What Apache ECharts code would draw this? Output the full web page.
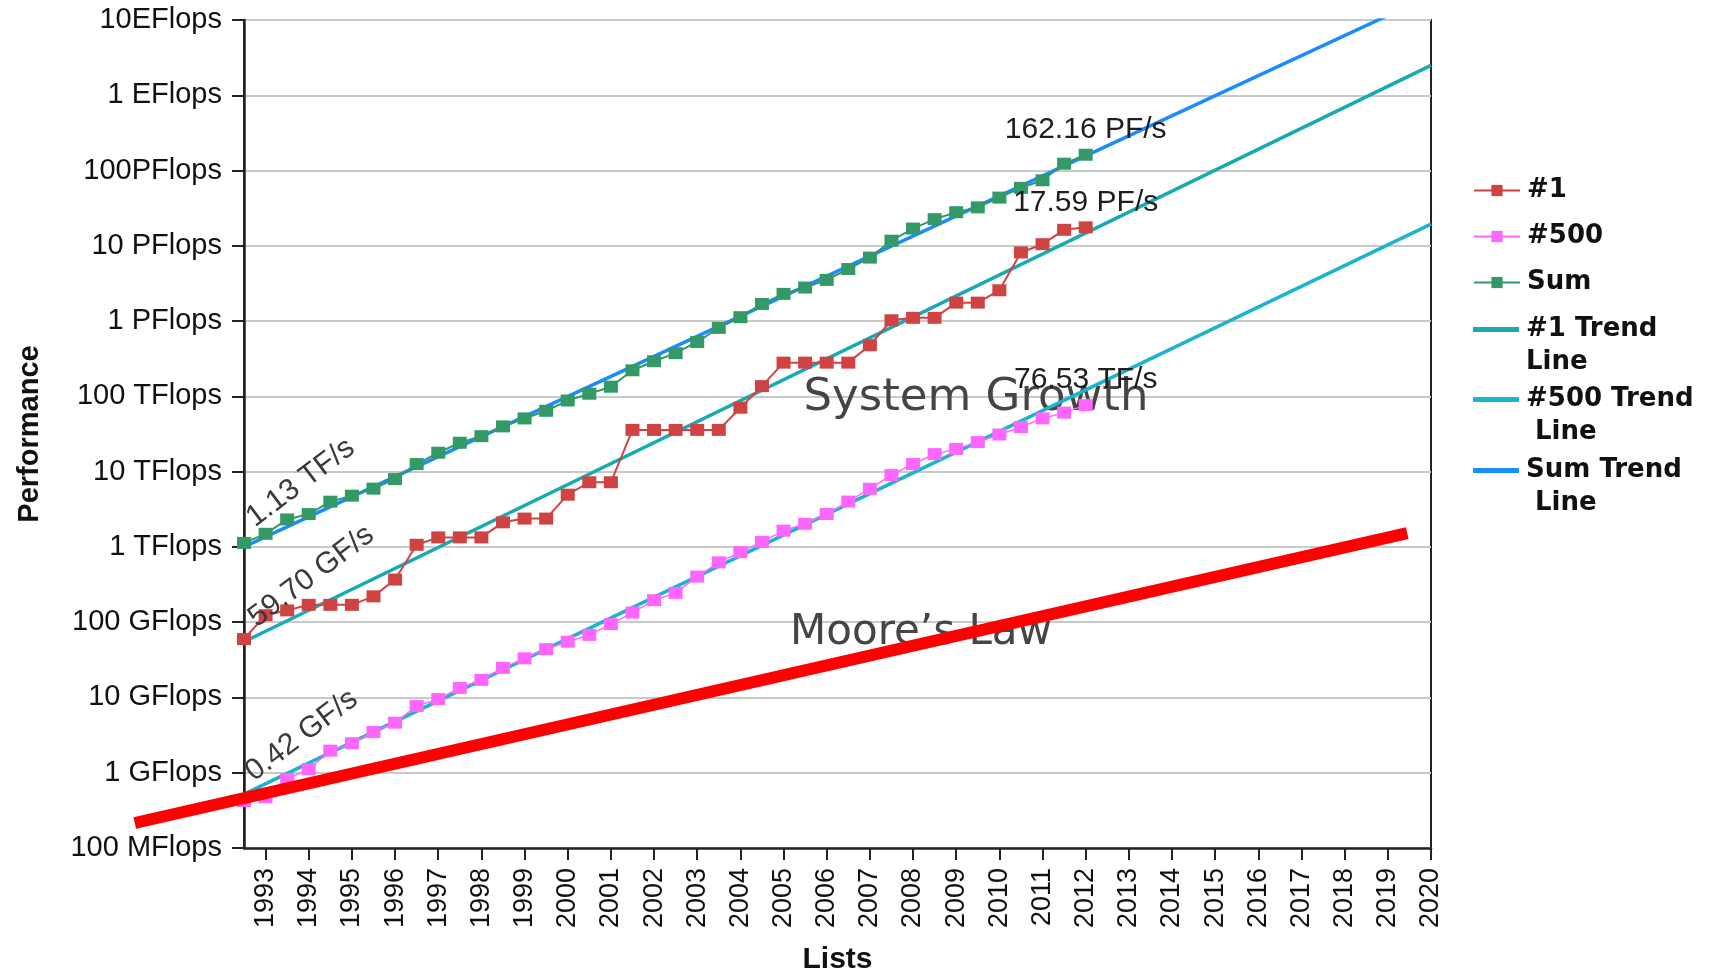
<!DOCTYPE html>
<html>
<head>
<meta charset="utf-8">
<script src="https://cdn.jsdelivr.net/npm/echarts@6/dist/echarts.min.js"></script>
<style>
  html, body { margin: 0; padding: 0; background: #ffffff; }
  #chart { width: 1714px; height: 973px; }
</style>
</head>
<body>
<div id="chart"></div>
<script>
// Two TOP500 lists per year: June and November
const years = [1993, 1994, 1995, 1996, 1997, 1998, 1999, 2000, 2001, 2002, 2003, 2004, 2005, 2006,
               2007, 2008, 2009, 2010, 2011, 2012, 2013, 2014, 2015, 2016, 2017, 2018, 2019, 2020];
const lists = [];
years.forEach(function (y) { lists.push(y + '.06'); lists.push(y + '.11'); });

// Performance in GFlop/s, June 1993 .. November 2012
const top1 = [59.7, 124, 143.4, 170, 170, 170, 220.4, 368.2, 1068, 1338, 1338, 1338, 2121, 2379, 2379,
              4938, 7226, 7226, 35860, 35860, 35860, 35860, 35860, 70720, 136800, 280600, 280600, 280600,
              280600, 478200, 1026000, 1105000, 1105000, 1759000, 1759000, 2566000, 8162000, 10510000,
              16320000, 17590000];
const top500 = [0.42, 0.472, 0.822, 1.114, 1.964, 2.468, 3.483, 4.62, 7.68, 9.51, 13.39, 17.12, 24.73,
                33.09, 43.82, 55.09, 67.78, 94.3, 134.3, 195.8, 245.1, 403.4, 624, 850.6, 1166, 1646,
                2026, 2737, 4005, 5929, 8996, 12640, 17090, 20050, 24670, 31120, 39090, 50940, 60820,
                76530];
const sumPerf = [1130, 1493, 2317, 2732, 3992, 4793, 5946, 7962, 12600, 17830, 24200, 29600, 39900,
                 50900, 64300, 88100, 108500, 134400, 222000, 293000, 375000, 528000, 813000, 1127000,
                 1690000, 2300000, 2790000, 3530000, 4920000, 6970000, 11700000, 16950000, 22600000,
                 27950000, 32400000, 43700000, 58900000, 74200000, 123400000, 162160000];

// Exponential trend lines: values (GFlop/s) at the first and last list position
const trendAt = [0, 55];
const trend1 = [55, 2.5e9];
const trend500 = [0.52, 1.94e7];
const trendSum = [1000, 2.12e10];

// Moore's law reference line (list position, GFlop/s); it starts left of the first list
const mooreAt = [-5.06, 53.9];
const moore = [0.215, 1524];

// Y axis tick labels, one per decade from 100 MFlops up
const yTickLabels = ['100 MFlops', '1 GFlops', '10 GFlops', '100 GFlops', '1 TFlops', '10 TFlops',
                     '100 TFlops', '1 PFlops', '10 PFlops', '100PFlops', '1 EFlops', '10EFlops'];

// Two-line legend entries; the leading blank line keeps the icon level with the first line
const legendText = {
  '#1 Trend Line': '\u00a0\n#1 Trend\nLine',
  '#500 Trend Line': '\u00a0\n#500 Trend\n Line',
  'Sum Trend Line': '\u00a0\nSum Trend\n Line'
};

// Plot area
const W = 1714, H = 973;
const plot = { left: 244, right: 283, top: 20, bottom: 125 };
const unit = (W - plot.left - plot.right) / (trendAt[1] - trendAt[0]);

function fmtRate(v) {
  const units = [['PF/s', 1e6], ['TF/s', 1e3], ['GF/s', 1]];
  for (let i = 0; i < units.length; i++) {
    if (v >= units[i][1]) return (v / units[i][1]).toFixed(2) + ' ' + units[i][0];
  }
  return v.toFixed(2) + ' GF/s';
}

const FONT = '"Liberation Sans", Arial, sans-serif';
const LEGEND_FONT = '"DejaVu Sans", sans-serif';

// First point gets a slanted start label, last point a label on top
function withLabels(arr, startOffset) {
  const last = arr.length - 1;
  return arr.map(function (v, i) {
    if (i === 0) {
      return { value: v, label: {
        show: true, formatter: fmtRate(v), position: startOffset, rotate: 37,
        align: 'left', verticalAlign: 'middle', color: '#3a3a3a', fontFamily: FONT, fontSize: 30 } };
    }
    if (i === last) {
      return { value: v, label: {
        show: true, formatter: fmtRate(v), position: 'top', distance: 4,
        color: '#1e1e1e', fontFamily: FONT, fontSize: 30 } };
    }
    return v;
  });
}

function trendData(vals) {
  return [[trendAt[0], vals[0]], [trendAt[1], vals[1]]];
}

const oddOnly = function (idx) { return idx % 2 === 1; };

function trendLegend(name, top) {
  return {
    data: [name],
    orient: 'vertical', left: 1468, top: top,
    itemWidth: 46, itemHeight: 5, icon: 'rect',
    formatter: function (n) { return legendText[n]; },
    textStyle: { fontFamily: LEGEND_FONT, fontWeight: 'bold', fontSize: 26, lineHeight: 33, color: '#111111', padding: [0, 0, 0, 2] }
  };
}

const chart = echarts.init(document.getElementById('chart'), null, { renderer: 'canvas' });

chart.setOption({
  animation: false,
  backgroundColor: '#ffffff',
  grid: [{
    left: plot.left, right: plot.right, top: plot.top, bottom: plot.bottom,
    show: true, borderColor: '#222222', borderWidth: 2,
    outerBoundsMode: 'none'
  }, {
    // same vertical span, widened to the left so the Moore line can start before 1993
    left: plot.left + mooreAt[0] * unit, right: plot.right, top: plot.top, bottom: plot.bottom,
    show: false, outerBoundsMode: 'none'
  }],
  xAxis: [{
    type: 'category',
    gridIndex: 0,
    data: lists,
    boundaryGap: false,
    name: 'Lists',
    nameLocation: 'middle',
    nameGap: 97,
    nameTextStyle: { fontFamily: FONT, fontWeight: 'bold', fontSize: 30, color: '#111111' },
    axisLine: { lineStyle: { color: '#222222', width: 2.5 } },
    axisTick: { show: true, interval: oddOnly, length: 12, inside: false, lineStyle: { color: '#222222', width: 2 } },
    axisLabel: {
      interval: oddOnly, rotate: 90, margin: 20,
      fontFamily: FONT, fontSize: 27, color: '#111111',
      formatter: function (v) { return v.slice(0, 4); }
    },
    splitLine: { show: false }
  }, {
    type: 'value', gridIndex: 0, min: trendAt[0], max: trendAt[1], show: false
  }, {
    type: 'value', gridIndex: 1, min: mooreAt[0], max: trendAt[1], show: false
  }],
  yAxis: [{
    type: 'log',
    gridIndex: 0,
    logBase: 10,
    min: 0.1,
    max: 1e10,
    interval: 1,
    name: 'Performance',
    nameLocation: 'middle',
    nameGap: 200,
    nameTextStyle: { fontFamily: FONT, fontWeight: 'bold', fontSize: 29, color: '#111111' },
    axisLine: { show: true, lineStyle: { color: '#222222', width: 2.5 } },
    axisTick: { show: true, length: 12, inside: false, lineStyle: { color: '#222222', width: 2 } },
    axisLabel: {
      margin: 22, showMinLabel: true, showMaxLabel: true,
      fontFamily: FONT, fontSize: 29, color: '#111111',
      formatter: function (v) { return yTickLabels[Math.round(Math.log10(v)) + 1]; }
    },
    splitLine: { show: true, lineStyle: { color: '#c9c9c9', width: 2 } },
    minorTick: { show: false }
  }, {
    type: 'log', gridIndex: 1, logBase: 10, min: 0.1, max: 1e10, show: false
  }],
  legend: [{
    data: ['#1', '#500', 'Sum'],
    orient: 'vertical', left: 1468, top: 169,
    itemWidth: 46, itemHeight: 14, itemGap: 13,
    textStyle: { fontFamily: LEGEND_FONT, fontWeight: 'bold', fontSize: 26, lineHeight: 33, color: '#111111', padding: [0, 0, 0, 2] }
  },
    trendLegend('#1 Trend Line', 275),
    trendLegend('#500 Trend Line', 345),
    trendLegend('Sum Trend Line', 416)
  ],
  graphic: [{
    type: 'text', x: 976, y: 398, z: 1,
    style: { text: 'System Growth', fontFamily: '"DejaVu Sans", Verdana, sans-serif', fontSize: 45, fill: '#454545', align: 'center', verticalAlign: 'middle' }
  }, {
    type: 'text', x: 921, y: 633, z: 1,
    style: { text: 'Moore\u2019s Law', fontFamily: '"DejaVu Sans", Verdana, sans-serif', fontSize: 42, fill: '#454545', align: 'center', verticalAlign: 'middle' }
  }],
  series: [{
    name: '#1 Trend Line', type: 'line', xAxisIndex: 1, yAxisIndex: 0, data: trendData(trend1),
    symbol: 'none', z: 3, lineStyle: { color: '#17aab0', width: 3.5 }, itemStyle: { color: '#17aab0' }
  }, {
    name: '#500 Trend Line', type: 'line', xAxisIndex: 1, yAxisIndex: 0, data: trendData(trend500),
    symbol: 'none', z: 3, lineStyle: { color: '#1db3cf', width: 3.5 }, itemStyle: { color: '#1db3cf' }
  }, {
    name: 'Sum Trend Line', type: 'line', xAxisIndex: 1, yAxisIndex: 0, data: trendData(trendSum),
    symbol: 'none', z: 3, lineStyle: { color: '#1a8cff', width: 3.5 }, itemStyle: { color: '#1a8cff' }
  }, {
    name: '#1', type: 'line', xAxisIndex: 0, yAxisIndex: 0, data: withLabels(top1, [15, -12]),
    symbol: 'rect', symbolSize: [14, 12], z: 5,
    lineStyle: { color: '#cf4343', width: 2 }, itemStyle: { color: '#cf4343' }
  }, {
    name: '#500', type: 'line', xAxisIndex: 0, yAxisIndex: 0, data: withLabels(top500, [12, -20]),
    symbol: 'rect', symbolSize: [14, 12], z: 5,
    lineStyle: { color: '#ff66ff', width: 1.5 }, itemStyle: { color: '#ff66ff' }
  }, {
    name: 'Sum', type: 'line', xAxisIndex: 0, yAxisIndex: 0, data: withLabels(sumPerf, [13, -16]),
    symbol: 'rect', symbolSize: [14, 12], z: 5,
    lineStyle: { color: '#339966', width: 2 }, itemStyle: { color: '#339966' }
  }, {
    name: 'Moore', type: 'line', xAxisIndex: 2, yAxisIndex: 1,
    data: [[mooreAt[0], moore[0]], [mooreAt[1], moore[1]]],
    symbol: 'none', z: 10, silent: true,
    lineStyle: { color: '#ff0000', width: 12, cap: 'butt' }
  }]
});
</script>
</body>
</html>
